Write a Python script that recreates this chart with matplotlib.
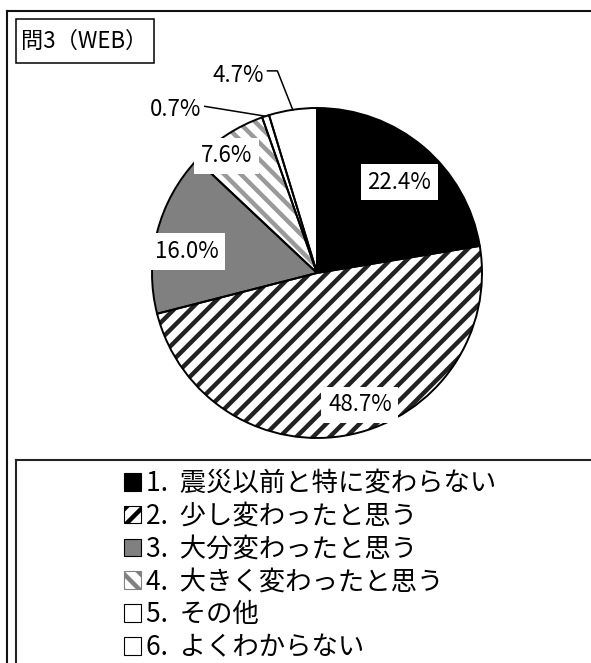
# pie chart of survey answers (問3 WEB)

import numpy as np
import matplotlib.pyplot as plt
from matplotlib.patches import Rectangle
from matplotlib.lines import Line2D

plt.rcParams['font.family'] = ['Noto Sans CJK JP', 'DejaVu Sans']
plt.rcParams['hatch.linewidth'] = 3.2

title = "問3（WEB）"
labels = ["1.  震災以前と特に変わらない", "2.  少し変わったと思う", "3.  大分変わったと思う",
          "4.  大きく変わったと思う", "5.  その他", "6.  よくわからない"]
values = [22.4, 48.7, 16.0, 7.6, 0.7, 4.7]
pct_text = ["22.4%", "48.7%", "16.0%", "7.6%", "0.7%", "4.7%"]

faces = ['black', 'white', '#808080', 'white', 'white', 'white']
hatches = [None, '//', None, '\\\\', None, None]
hatch_cols = ['black', '#222222', '#808080', '#9a9a9a', 'white', 'white']

W, H = 591, 663
def fx(x): return x / W
def fy(y): return 1 - y / H

fig = plt.figure(figsize=(W/100, H/100), dpi=100)

# pie axes, centre ~ (317, 273) px, radius 165 px
ax = fig.add_axes([fx(152), fy(438), 330/W, 330/H])
wedges, _ = ax.pie(values, colors=faces, startangle=90, counterclock=False,
                   wedgeprops=dict(linewidth=0))
for w, h, hc in zip(wedges, hatches, hatch_cols):
    if h:
        w.set_hatch(h)
    w.set_edgecolor(hc)
# outlines on top
ax.pie(values, startangle=90, counterclock=False,
       wedgeprops=dict(fill=False, edgecolor='black', linewidth=1.4))
ax.set_xlim(-1, 1)
ax.set_ylim(-1, 1)
ax.set_aspect('equal')
ax.axis('off')

# percentage labels
lab_xy = [(0.50, 0.55), (0.26, -0.80), (-0.79, 0.13), (-0.55, 0.71), (-0.86, 0.99), (-0.48, 1.20)]
for i, (t, (x, y)) in enumerate(zip(pct_text, lab_xy)):
    box = dict(boxstyle='square,pad=0.3', fc='white', ec='none') if i < 4 else None
    ax.text(x, y, t, ha='center', va='center', fontsize=16, bbox=box, clip_on=False)

# leader lines for small slices
frac = np.array(values) / np.sum(values)
mid = np.cumsum(frac) - frac / 2
ang = np.deg2rad(90 - mid * 360)
ax.plot([-0.68, np.cos(ang[4])], [1.01, np.sin(ang[4])], color='black', lw=1.1, clip_on=False)
ax.plot([-0.30, -0.24, np.cos(ang[5])], [1.225, 1.225, np.sin(ang[5])], color='black', lw=1.1, clip_on=False)

# outer frame + legend frame
fig.add_artist(Line2D([fx(7), fx(7)], [fy(11), 0], color='#111111', lw=1.5))
fig.add_artist(Line2D([fx(7), 1], [fy(11), fy(11)], color='#111111', lw=1.5))
fig.add_artist(Line2D([fx(16), fx(16)], [fy(460), 0], color='#222222', lw=1.5))
fig.add_artist(Line2D([fx(16), 1], [fy(460), fy(460)], color='#222222', lw=1.5))

# title box
fig.add_artist(Rectangle((fx(16), fy(63)), 138/W, 44/H, fill=False, ec='black', lw=1.1))
fig.text(fx(21), fy(41), title, fontsize=16, ha='left', va='center')

# legend
handles = []
for f, h in zip(faces, hatches):
    ec = '#808080' if h == '\\\\' else 'black'
    handles.append(Rectangle((0, 0), 1, 1, fc=f, hatch=h, ec=ec, lw=0.8))
fig.legend(handles=handles, labels=labels, loc='upper left',
           bbox_to_anchor=(fx(124), fy(470)), frameon=False, fontsize=19,
           handlelength=0.65, handleheight=0.65, handletextpad=0.2,
           labelspacing=0.22, borderpad=0, borderaxespad=0)

plt.savefig('out.png', dpi=100)
